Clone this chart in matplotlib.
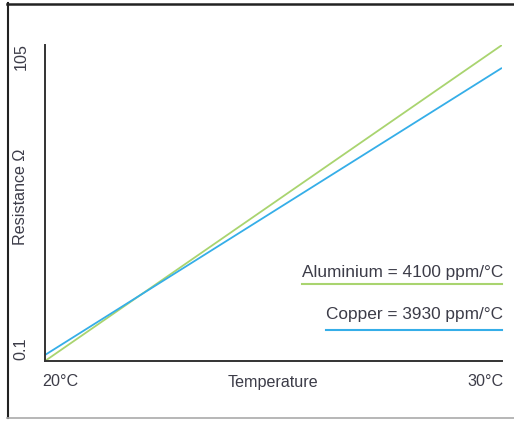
import matplotlib
matplotlib.use("Agg")
import matplotlib.pyplot as plt
from matplotlib.lines import Line2D

plt.rcParams['font.family'] = ['Liberation Sans', 'DejaVu Sans']

# Data
temps = [20, 30]
aluminium = [0.0, 105.0]
copper = [2.0, 97.4]
x_labels = ["20°C", "30°C"]
y_labels = ["0.1", "105"]
legend_texts = ["Aluminium = 4100 ppm/°C", "Copper = 3930 ppm/°C"]

green = "#a9d46f"
blue = "#35aee8"
txt = "#3c3c48"

W, H = 514, 421
fig = plt.figure(figsize=(W / 100, H / 100), dpi=100)
fig.patch.set_facecolor("white")

def fx(px):
    return px / W

def fy(py):
    return 1 - py / H

ax = fig.add_axes([fx(45), fy(361), fx(502) - fx(45), fy(45) - fy(361)])
ax.plot(temps, aluminium, color=green, lw=1.3, solid_capstyle='butt')
ax.plot(temps, copper, color=blue, lw=1.3, solid_capstyle='butt')
ax.set_xlim(20, 30)
ax.set_ylim(0, 105)
for s in ["top", "right"]:
    ax.spines[s].set_visible(False)
for s in ["left", "bottom"]:
    ax.spines[s].set_color("#333333")
    ax.spines[s].set_linewidth(1.4)
ax.set_xticks([])
ax.set_yticks([])

fs = 11.6
fl = 12.4
# axis text
fig.text(fx(60), fy(381), x_labels[0], ha="center", va="center", fontsize=fs, color=txt)
fig.text(fx(485), fy(381), x_labels[1], ha="center", va="center", fontsize=fs, color=txt)
fig.text(fx(273), fy(382), "Temperature", ha="center", va="center", fontsize=fs, color=txt)
fig.text(fx(21), fy(349), y_labels[0], ha="center", va="center", rotation=90, fontsize=fs, color=txt)
fig.text(fx(21), fy(57), y_labels[1], ha="center", va="center", rotation=90, fontsize=fs, color=txt)
fig.text(fx(21), fy(197), "Resistance Ω", ha="center", va="center", rotation=90, fontsize=fs, color=txt)

# legend
fig.text(fx(503), fy(272), legend_texts[0], ha="right", va="center", fontsize=fl, color=txt)
fig.add_artist(Line2D([fx(302), fx(502)], [fy(284), fy(284)], color=green, lw=1.5))
fig.text(fx(503), fy(314), legend_texts[1], ha="right", va="center", fontsize=fl, color=txt)
fig.add_artist(Line2D([fx(326), fx(502)], [fy(330), fy(330)], color=blue, lw=1.5))

# frame
fig.add_artist(Line2D([fx(7), 1.0], [fy(3.5), fy(3.5)], color="#222222", lw=1.8))
fig.add_artist(Line2D([fx(7.5), fx(7.5)], [fy(3), fy(418)], color="#222222", lw=1.5))
fig.add_artist(Line2D([fx(7), 1.0], [fy(418), fy(418)], color="#aaaaaa", lw=1.2))

fig.savefig("out.png", dpi=100)
